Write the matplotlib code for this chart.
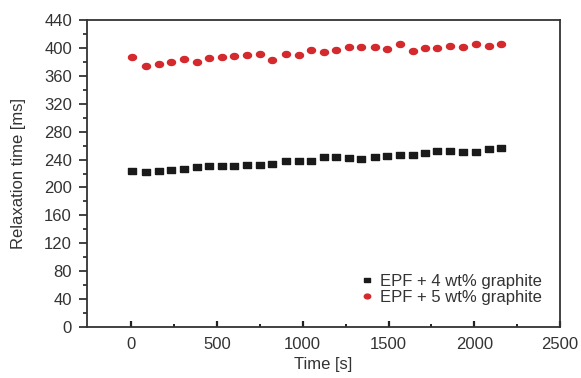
import numpy as np
import matplotlib
matplotlib.use("Agg")
import matplotlib.pyplot as plt
from matplotlib import font_manager

time_s = [5, 85, 160, 232, 310, 381, 456, 530, 602, 676, 752, 822, 900, 976, 1046,
          1122, 1195, 1268, 1342, 1419, 1491, 1565, 1640, 1711, 1783, 1858, 1935, 2009, 2084, 2155]
epf4 = [223.6, 221.7, 223.6, 225.5, 226.9, 228.9, 231.2, 230.3, 230.8, 232.2, 232.2, 233.2,
        238.4, 237.5, 238.4, 244.1, 243.4, 242.2, 241.2, 243.7, 245.1, 247.0, 246.5, 249.8,
        251.8, 251.8, 251.3, 250.8, 255.1, 257.0]
epf5 = [387.4, 374.5, 376.5, 380.3, 384.1, 379.4, 385.1, 386.6, 388.9, 389.4, 390.9, 382.7,
        390.9, 389.4, 397.0, 393.7, 397.0, 400.9, 400.9, 400.9, 398.5, 405.6, 395.6, 399.5,
        399.5, 402.8, 400.9, 405.6, 402.8, 405.6]
labels = ["EPF + 4 wt% graphite", "EPF + 5 wt% graphite"]
x_ticks = [0, 500, 1000, 1500, 2000, 2500]
y_ticks = list(range(0, 441, 40))

avail = {f.name for f in font_manager.fontManager.ttflist}
fam = [f for f in ["Liberation Sans Narrow", "Liberation Sans", "DejaVu Sans"] if f in avail]
plt.rcParams['font.family'] = fam
plt.rcParams['font.size'] = 12

txt = '#333333'
fig = plt.figure(figsize=(5.81, 3.78), dpi=100)
ax = fig.add_axes([0.149, 0.135, 0.815, 0.812])

sq = [(-1, -0.72), (1, -0.72), (1, 0.72), (-1, 0.72), (-1, -0.72)]
th = np.linspace(0, 2 * np.pi, 40)
ell = list(zip(np.cos(th), 0.75 * np.sin(th)))

ax.plot(time_s, epf4, linestyle='none', marker=sq, markersize=5.3,
        color='#1a1a1a', label=labels[0])
ax.plot(time_s, epf5, linestyle='none', marker=ell, markersize=5.8,
        color='#d42a2e', label=labels[1])

ax.set_xlim(-260, 2500)
ax.set_ylim(0, 440)
ax.set_xticks(x_ticks)
ax.set_yticks(y_ticks)
ax.set_xticks(np.arange(250, 2500, 500), minor=True)
ax.set_yticks(np.arange(20, 440, 40), minor=True)

ax.tick_params(axis='x', which='major', direction='in', length=4.5, width=1.6, colors='#222', labelcolor=txt, labelsize=12, pad=7)
ax.tick_params(axis='x', which='minor', direction='in', length=2, width=1.4, colors='#222')
ax.tick_params(axis='y', which='major', direction='out', length=6, width=1.2, colors='#222', labelcolor=txt, labelsize=12, pad=4.5)
ax.tick_params(axis='y', which='minor', direction='out', length=3, width=1.2, colors='#222')

for s in ax.spines.values():
    s.set_linewidth(1.3)
    s.set_color('#333333')

ax.set_xlabel("Time [s]", color=txt, fontsize=12, labelpad=4)
ax.set_ylabel("Relaxation time [ms]", color=txt, fontsize=12, labelpad=13)

leg = ax.legend(loc='lower right', bbox_to_anchor=(0.975, 0.05), frameon=False, fontsize=12,
                handletextpad=0.25, labelspacing=0.05, borderaxespad=0.0, handlelength=1.0,
                markerscale=0.8)
for t in leg.get_texts():
    t.set_color(txt)

fig.savefig("out.png", dpi=100)
